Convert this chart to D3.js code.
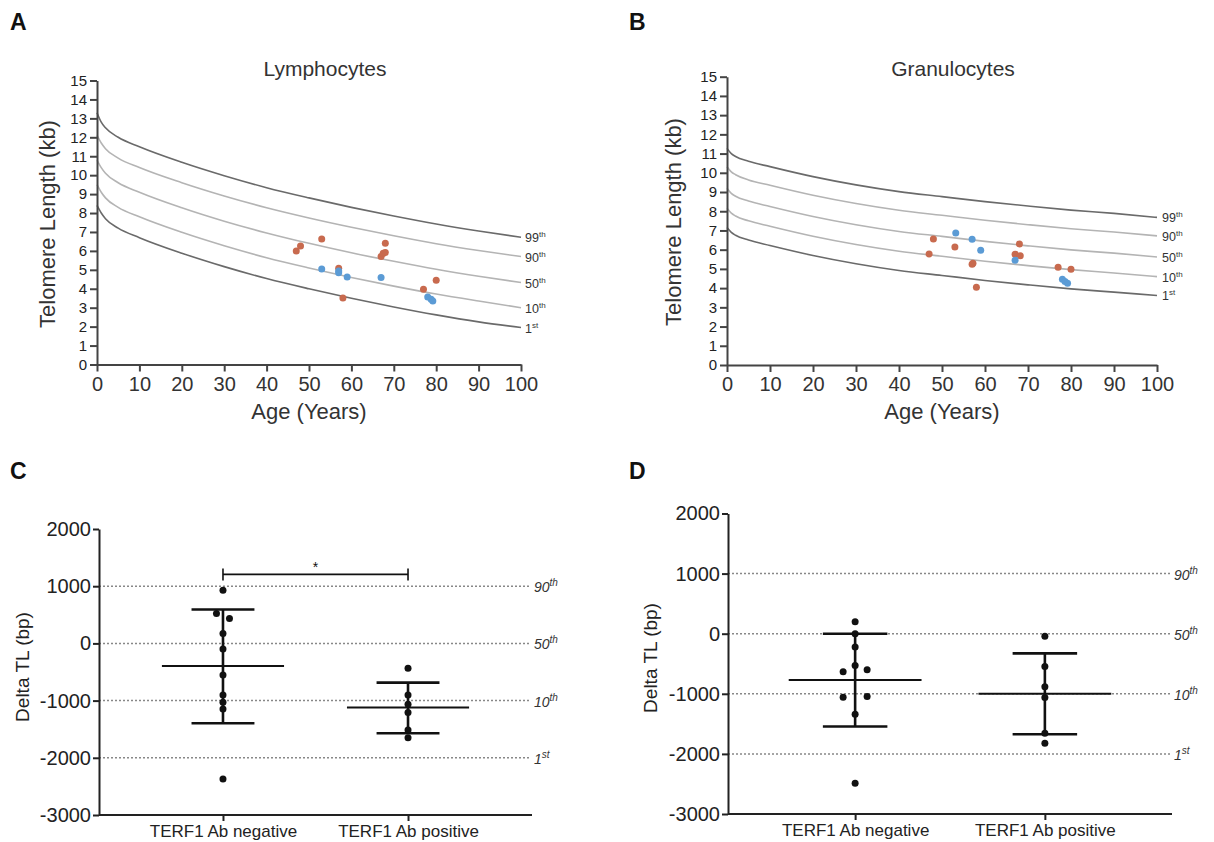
<!DOCTYPE html>
<html><head><meta charset="utf-8">
<script src="https://cdn.jsdelivr.net/npm/d3@7"></script>
<style>
body{margin:0;background:#fff;}
svg{display:block;font-family:Arial,"Liberation Sans",sans-serif;}
</style></head><body>
<svg id="c" width="1214" height="842"></svg>
<script>
// ---------- DATA ----------
const ageGrid = [0,1,2,5,10,20,30,40,50,60,70,80,90,100];
const pctNames = ["99","90","50","10","1"];
const pctSuffix = ["th","th","th","th","st"];

const lymP99 = [13.3,12.8,12.5,12.0,11.5,10.68,9.97,9.34,8.8,8.3,7.84,7.42,7.05,6.72];
const lymP90 = [12.1,11.7,11.4,10.9,10.4,9.6,8.9,8.28,7.74,7.25,6.8,6.38,6.02,5.7];
const lymP50 = [10.8,10.4,10.1,9.6,9.1,8.28,7.57,6.95,6.4,5.9,5.45,5.03,4.66,4.33];
const lymP10 = [9.5,9.1,8.8,8.3,7.8,6.98,6.27,5.64,5.1,4.6,4.14,3.72,3.35,3.0];
const lymP1  = [8.4,8.0,7.7,7.2,6.7,5.88,5.17,4.54,4.0,3.5,3.04,2.62,2.25,1.95];

const graP99 = [11.27,11.0,10.85,10.6,10.32,9.8,9.37,9.02,8.76,8.5,8.27,8.06,7.89,7.68];
const graP90 = [10.32,10.05,9.9,9.63,9.35,8.83,8.4,8.05,7.79,7.53,7.3,7.09,6.92,6.72];
const graP50 = [9.2,8.93,8.78,8.53,8.25,7.73,7.3,6.95,6.69,6.43,6.2,5.99,5.82,5.62];
const graP10 = [8.15,7.9,7.75,7.5,7.22,6.7,6.27,5.92,5.66,5.4,5.17,4.96,4.79,4.6];
const graP1  = [7.15,6.9,6.75,6.5,6.22,5.7,5.27,4.92,4.66,4.4,4.17,3.96,3.79,3.62];

const lymAgeOrange = [47,48,53,57,58,67,67.5,68,68,77,80];
const lymTLOrange  = [6.0,6.26,6.63,5.08,3.51,5.7,5.87,6.4,5.91,3.97,4.45];
const lymAgeBlue   = [53,57,57,59,67,78,78.8,79.2];
const lymTLBlue    = [5.04,4.94,4.85,4.62,4.6,3.57,3.44,3.35];

const graAgeOrange = [47,48,53,57,57.2,58,67,68,68.2,77,80];
const graTLOrange  = [5.78,6.56,6.14,5.24,5.3,4.04,5.76,6.3,5.69,5.08,4.98];
const graAgeBlue   = [53.2,57,59,67,78,78.6,79.2];
const graTLBlue    = [6.87,6.54,5.97,5.45,4.46,4.35,4.25];

const ageTicks = [0,10,20,30,40,50,60,70,80,90,100];
const tlTicks = [0,1,2,3,4,5,6,7,8,9,10,11,12,13,14,15];

const groups = ["TERF1 Ab negative","TERF1 Ab positive"];
const deltaTicks = [2000,1000,0,-1000,-2000,-3000];
const refValues = [1000,0,-1000,-2000];
const refNames = ["90","50","10","1"];
const refSuffix = ["th","th","th","st"];

const cNeg = [930,523,436,174,-99,-552,-901,-1029,-1145,-2372];
const cNegSide = [0,-1,1,0,0,0,0,0,0,0];
const cPos = [-436,-901,-1064,-1209,-1512,-1651];
const cPosSide = [0,0,0,0,0,0];
const cMean = [-395,-1122];
const cUpper = [593,-686];
const cLower = [-1395,-1570];
const cBracket = 1206;

const dNeg = [200,0,-222,-528,-633,-600,-1056,-1044,-1339,-2489];
const dNegSide = [0,0,0,0,-1,1,-1,1,0,0];
const dPos = [-44,-544,-883,-1061,-1656,-1822];
const dPosSide = [0,0,0,0,0,0];
const dMean = [-772,-1000];
const dUpper = [0,-328];
const dLower = [-1544,-1672];

// ---------- DRAW ----------
const svg = d3.select("#c");
svg.append("rect").attr("width",1214).attr("height",842).attr("fill","#fff");

function letter(t,x,y){
  svg.append("text").attr("x",x).attr("y",y).attr("font-size",23).attr("font-weight","bold")
    .attr("fill","#111").text(t);
}
letter("A",10,30); letter("B",629,30); letter("C",10,479); letter("D",629,479);

function growthPanel(o){
  const g = svg.append("g");
  const x = d3.scaleLinear().domain([0,100]).range([o.x0,o.x1]);
  const y = d3.scaleLinear().domain([0,15]).range([o.yb,o.yt]);
  const line = d3.line().x(d=>x(d[0])).y(d=>y(d[1])).curve(d3.curveMonotoneX);
  o.curves.forEach((vals,i)=>{
    const pts = ageGrid.map((a,k)=>[a,vals[k]]);
    g.append("path").attr("d",line(pts)).attr("fill","none")
      .attr("stroke",(i===0||i===4)?"#6a6a6a":"#b4b4b4").attr("stroke-width",1.6);
    const t = g.append("text").attr("x",x(100)+o.lblDx).attr("y",y(vals[vals.length-1])+5)
      .attr("font-size",12.5).attr("fill","#333");
    t.append("tspan").text(pctNames[i]);
    t.append("tspan").attr("font-size",8).attr("dy",-5).text(pctSuffix[i]);
  });
  o.orangeAge.forEach((a,i)=>{
    g.append("circle").attr("cx",x(a)).attr("cy",y(o.orangeTL[i])).attr("r",3.5).attr("fill","#c86a4e");
  });
  o.blueAge.forEach((a,i)=>{
    g.append("circle").attr("cx",x(a)).attr("cy",y(o.blueTL[i])).attr("r",3.5).attr("fill","#5b9bd5");
  });
  const ax = g.append("g").attr("transform",`translate(0,${o.yb})`)
    .call(d3.axisBottom(x).tickValues(ageTicks).tickSize(7).tickSizeOuter(0).tickPadding(5));
  ax.attr("color","#444").selectAll("text").attr("font-size",20).attr("fill","#333").attr("font-family","Arial,'Liberation Sans',sans-serif");
  ax.selectAll("path,line").attr("stroke-width",2);
  const ay = g.append("g").attr("transform",`translate(${o.x0},0)`)
    .call(d3.axisLeft(y).tickValues(tlTicks).tickSize(7).tickSizeOuter(0).tickPadding(3));
  ay.attr("color","#444").selectAll("text").attr("font-size",15).attr("fill","#222").attr("font-family","Arial,'Liberation Sans',sans-serif");
  ay.selectAll("path,line").attr("stroke-width",2);
  g.append("text").attr("x",o.titleX).attr("y",76).attr("text-anchor","middle")
    .attr("font-size",21).attr("fill","#333").text(o.title);
  g.append("text").attr("x",(o.x0+o.x1)/2).attr("y",419).attr("text-anchor","middle")
    .attr("font-size",22).attr("fill","#333").text("Age (Years)");
  g.append("text").attr("transform",`translate(${o.ytX},${o.ytY}) rotate(-90)`).attr("text-anchor","middle")
    .attr("font-size",22).attr("fill","#333").text("Telomere Length (kb)");
}

growthPanel({x0:97,x1:521,yb:364.5,yt:80.5,title:"Lymphocytes",titleX:325,ytX:55,ytY:224,lblDx:4,
  curves:[lymP99,lymP90,lymP50,lymP10,lymP1],
  orangeAge:lymAgeOrange,orangeTL:lymTLOrange,blueAge:lymAgeBlue,blueTL:lymTLBlue});
growthPanel({x0:727,x1:1157,yb:365,yt:76.7,title:"Granulocytes",titleX:953,ytX:681,ytY:222,lblDx:5,
  curves:[graP99,graP90,graP50,graP10,graP1],
  orangeAge:graAgeOrange,orangeTL:graTLOrange,blueAge:graAgeBlue,blueTL:graTLBlue});

function statPanel(o){
  const g = svg.append("g");
  const x = d3.scalePoint().domain(groups).range([o.x0,o.x1]).padding(0.67);
  const y = d3.scaleLinear().domain([-3000,2000]).range([o.yb,o.yt]);
  const step = x.step();
  refValues.forEach((v,i)=>{
    g.append("line").attr("x1",o.x0).attr("x2",o.x1-1).attr("y1",y(v)).attr("y2",y(v))
      .attr("stroke","#888").attr("stroke-width",1.5).attr("stroke-dasharray","2,2");
    const t = g.append("text").attr("x",o.x1+2).attr("y",y(v)+6).attr("font-size",14)
      .attr("font-style","italic").attr("fill","#333");
    t.append("tspan").text(refNames[i]);
    t.append("tspan").attr("font-size",10).attr("dy",-6).text(refSuffix[i]);
  });
  groups.forEach((gr,i)=>{
    const cx = x(gr);
    g.append("line").attr("x1",cx).attr("x2",cx).attr("y1",y(o.upper[i])).attr("y2",y(o.lower[i]))
      .attr("stroke","#111").attr("stroke-width",2.6);
    [o.upper[i],o.lower[i]].forEach(v=>{
      g.append("line").attr("x1",cx-step*0.17).attr("x2",cx+step*0.17).attr("y1",y(v)).attr("y2",y(v))
        .attr("stroke","#111").attr("stroke-width",2.6);
    });
    g.append("line").attr("x1",cx-step*o.meanW).attr("x2",cx+step*o.meanW).attr("y1",y(o.mean[i])).attr("y2",y(o.mean[i]))
      .attr("stroke","#111").attr("stroke-width",2);
    const vals = o.vals[i], side = o.sides[i];
    vals.forEach((v,k)=>{
      g.append("circle").attr("cx",cx+side[k]*o.spread).attr("cy",y(v)).attr("r",3.5).attr("fill","#111");
    });
  });
  const ay = g.append("g").attr("transform",`translate(${o.x0},0)`)
    .call(d3.axisLeft(y).tickValues(deltaTicks).tickSize(6).tickSizeOuter(0).tickPadding(2).tickFormat(d=>String(d)));
  ay.attr("color","#222").selectAll("text").attr("font-size",20).attr("fill","#222").attr("font-family","Arial,'Liberation Sans',sans-serif");
  ay.selectAll("path,line").attr("stroke-width",2);
  const ax = g.append("g").attr("transform",`translate(0,${o.yb})`)
    .call(d3.axisBottom(x).tickSize(6).tickSizeOuter(0).tickPadding(4));
  ax.attr("color","#222").selectAll("text").attr("font-size",17).attr("fill","#222").attr("font-family","Arial,'Liberation Sans',sans-serif");
  ax.selectAll("path,line").attr("stroke-width",2);
  ax.select(".domain").attr("d",`M${o.x0},0H${o.x1}`);
  g.append("text").attr("transform",`translate(${o.ytX},${o.ytY}) rotate(-90)`).attr("text-anchor","middle")
    .attr("font-size",19).attr("fill","#222").text("Delta TL (bp)");
  if(o.bracket!==undefined){
    const by = y(o.bracket), xa = x(groups[0]), xb = x(groups[1]);
    g.append("line").attr("x1",xa).attr("x2",xb).attr("y1",by).attr("y2",by).attr("stroke","#111").attr("stroke-width",1.6);
    [xa,xb].forEach(xx=>g.append("line").attr("x1",xx).attr("x2",xx).attr("y1",by-6).attr("y2",by+6).attr("stroke","#111").attr("stroke-width",1.6));
    g.append("text").attr("x",(xa+xb)/2).attr("y",by-2).attr("text-anchor","middle").attr("font-size",14).attr("fill","#111").text("*");
  }
}

statPanel({x0:99,x1:532,yb:815,yt:529,ytX:29,ytY:667,meanW:0.33,spread:6.5,
  vals:[cNeg,cPos],sides:[cNegSide,cPosSide],mean:cMean,upper:cUpper,lower:cLower,bracket:cBracket});
statPanel({x0:728,x1:1172,yb:814,yt:513.5,ytX:657,ytY:658,meanW:0.35,spread:12,
  vals:[dNeg,dPos],sides:[dNegSide,dPosSide],mean:dMean,upper:dUpper,lower:dLower});
</script>
</body></html>
